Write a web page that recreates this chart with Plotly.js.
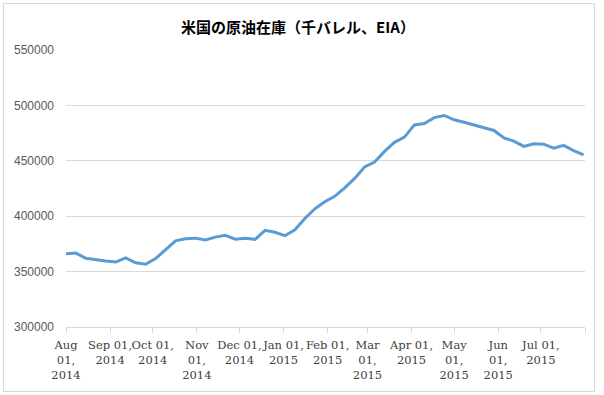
<!DOCTYPE html>
<html>
<head>
<meta charset="utf-8">
<script src="https://cdn.plot.ly/plotly-3.0.1.min.js"></script>
<style>
  html, body { margin: 0; padding: 0; background: #ffffff; }
  #wrap { position: relative; width: 604px; height: 395px; }
  #chart { position: absolute; left: 0; top: 0; width: 604px; height: 395px; }
  #frame { position: absolute; left: 3px; top: 3px; width: 592px; height: 389px;
           box-sizing: border-box; border: 1px solid #d9d9d9; pointer-events: none; }
</style>
</head>
<body>
<div id="wrap">
  <div id="chart"></div>
  <div id="frame"></div>
</div>
<script>
const titleText = "米国の原油在庫（千バレル、EIA）";

const weekDates = [
  "2014-08-01","2014-08-08","2014-08-15","2014-08-22","2014-08-29",
  "2014-09-05","2014-09-12","2014-09-19","2014-09-26",
  "2014-10-03","2014-10-10","2014-10-17","2014-10-24","2014-10-31",
  "2014-11-07","2014-11-14","2014-11-21","2014-11-28",
  "2014-12-05","2014-12-12","2014-12-19","2014-12-26",
  "2015-01-02","2015-01-09","2015-01-16","2015-01-23","2015-01-30",
  "2015-02-06","2015-02-13","2015-02-20","2015-02-27",
  "2015-03-06","2015-03-13","2015-03-20","2015-03-27",
  "2015-04-03","2015-04-10","2015-04-17","2015-04-24",
  "2015-05-01","2015-05-08","2015-05-15","2015-05-22","2015-05-29",
  "2015-06-05","2015-06-12","2015-06-19","2015-06-26",
  "2015-07-03","2015-07-10","2015-07-17","2015-07-24","2015-07-31"
];

const crudeStocks = [
  366000, 366700, 362000, 360500, 359500,
  358600, 362300, 357900, 356600,
  361700, 370000, 377700, 379700, 380200,
  378500, 381100, 382700, 379300,
  380000, 379100, 387200, 385500,
  382400, 387800, 397900, 406700, 413100,
  417900, 425600, 434100, 444400,
  448900, 458500, 466700, 471400,
  482400, 483700, 489000, 490900,
  487000, 484800, 482200, 479400, 477400,
  470600, 467800, 463000, 465400,
  465000, 461400, 463900, 459200, 455300
];

const xTickVals = [
  "2014-08-01","2014-09-01","2014-10-01","2014-11-01","2014-12-01",
  "2015-01-01","2015-02-01","2015-03-01","2015-04-01","2015-05-01",
  "2015-06-01","2015-07-01","2015-08-01"
];
const xTickText = [
  "Aug<br>01,<br>2014","Sep 01,<br>2014","Oct 01,<br>2014","Nov<br>01,<br>2014",
  "Dec 01,<br>2014","Jan 01,<br>2015","Feb 01,<br>2015","Mar<br>01,<br>2015",
  "Apr 01,<br>2015","May<br>01,<br>2015","Jun<br>01,<br>2015","Jul 01,<br>2015",""
];

const yTickVals = [300000, 350000, 400000, 450000, 500000, 550000];

const trace = {
  x: weekDates,
  y: crudeStocks,
  type: "scatter",
  mode: "lines",
  line: { color: "#5b9bd5", width: 3 },
  hoverinfo: "x+y"
};

const layout = {
  width: 604,
  height: 395,
  margin: { l: 66, r: 19, t: 50, b: 68 },
  paper_bgcolor: "rgba(0,0,0,0)",
  plot_bgcolor: "#ffffff",
  showlegend: false,
  title: {
    text: "<b>" + titleText + "</b>",
    font: { family: "Noto Sans CJK JP", size: 15, color: "#000000" },
    xref: "container", yref: "container",
    x: 0.4934, y: 0.929, xanchor: "center", yanchor: "middle"
  },
  xaxis: {
    type: "date",
    range: ["2014-08-01", "2015-08-01"],
    tickmode: "array",
    tickvals: xTickVals,
    ticktext: xTickText,
    tickangle: 0,
    ticks: "outside",
    ticklen: 5,
    tickcolor: "#d9d9d9",
    showgrid: false,
    showline: true,
    linecolor: "#d9d9d9",
    linewidth: 1,
    zeroline: false,
    ticklabelstandoff: 2,
    tickfont: { family: "DejaVu Serif", size: 11.5, color: "#404040" }
  },
  yaxis: {
    range: [300000, 550000],
    tickmode: "array",
    tickvals: yTickVals,
    tickformat: "d",
    showgrid: true,
    gridcolor: "#d9d9d9",
    gridwidth: 1,
    showline: false,
    zeroline: false,
    ticks: "",
    ticklabelstandoff: 11,
    tickfont: { family: "Liberation Sans", size: 12, color: "#595959" }
  }
};

Plotly.newPlot("chart", [trace], layout, { displayModeBar: false, staticPlot: true });
</script>
</body>
</html>
